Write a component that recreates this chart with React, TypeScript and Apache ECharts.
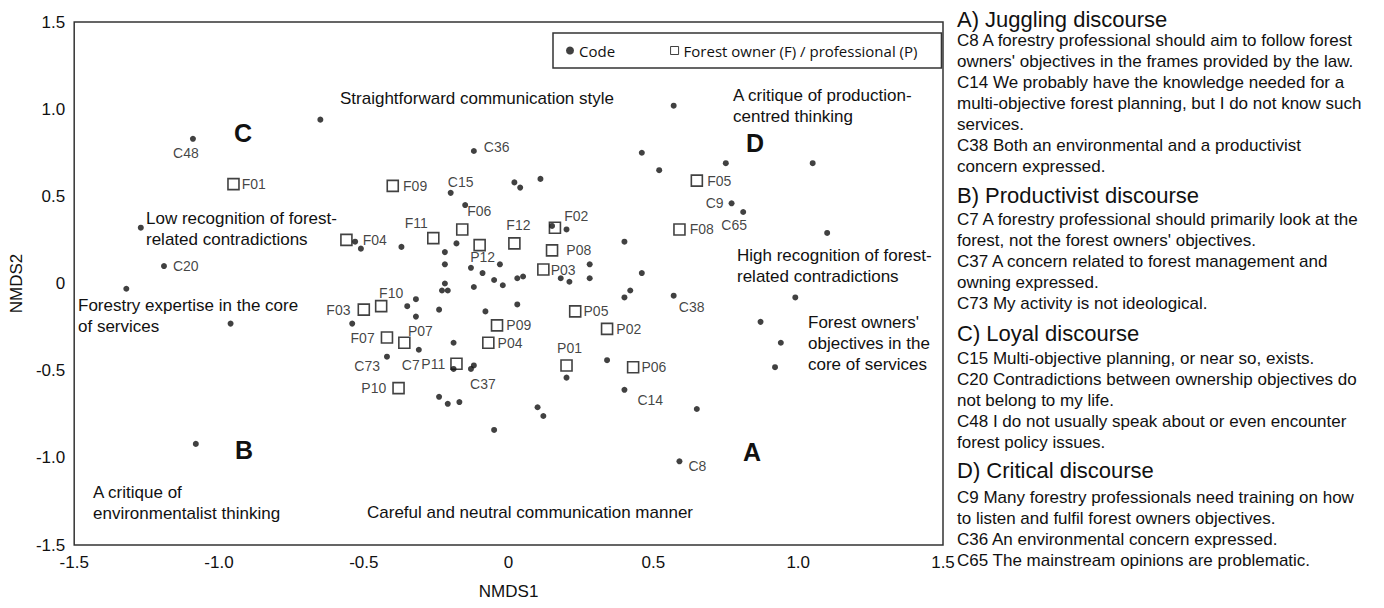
import React, { useEffect, useRef } from 'react';
import * as echarts from 'echarts';

// ---------- data ----------
const AXIS_MIN = -1.5;
const AXIS_MAX = 1.5;
const AXIS_STEP = 0.5;
const X_NAME = 'NMDS1';
const Y_NAME = 'NMDS2';
const CODE_SERIES = 'Code';
const RESP_SERIES = 'Forest owner (F) / professional (P)';

// unlabeled code points [NMDS1, NMDS2]
const CODE_POINTS: [number, number][] = [
  [-0.65, 0.94], [-1.27, 0.32], [-1.32, -0.03], [-0.96, -0.23], [-1.08, -0.92],
  [-0.15, 0.45], [0.02, 0.58], [0.04, 0.55], [0.11, 0.60], [0.46, 0.75], [0.52, 0.65],
  [0.57, 1.02], [0.75, 0.69], [1.05, 0.69], [1.10, 0.29],
  [0.40, 0.24], [0.20, 0.31], [0.15, 0.33], [0.28, 0.11], [0.18, 0.03], [0.21, 0.01],
  [0.28, 0.03], [0.46, 0.06], [0.42, -0.04], [0.40, -0.08],
  [0.99, -0.08], [0.87, -0.22], [0.94, -0.34], [0.92, -0.48],
  [0.03, 0.03], [0.05, 0.04], [-0.02, -0.01], [-0.05, 0.02], [-0.03, 0.11], [-0.13, 0.09],
  [-0.09, 0.06], [-0.12, -0.02], [0.03, -0.12], [-0.08, -0.16],
  [-0.18, 0.23], [-0.22, 0.18], [-0.22, 0.11], [-0.22, 0.0], [-0.23, -0.04], [-0.21, -0.04],
  [-0.24, -0.15], [-0.32, -0.09], [-0.35, -0.13], [-0.32, -0.19], [-0.54, -0.23],
  [-0.37, 0.21], [-0.53, 0.24], [-0.51, 0.20],
  [-0.19, -0.34], [-0.19, -0.49], [-0.12, -0.47], [-0.24, -0.65], [-0.21, -0.69],
  [-0.17, -0.68], [-0.05, -0.84], [0.10, -0.71], [0.12, -0.76], [0.20, -0.54],
  [0.34, -0.44], [0.65, -0.72],
];

// labeled codes [name, NMDS1, NMDS2]
const CODE_LABELED: [string, number, number][] = [
  ['C48', -1.09, 0.83], ['C20', -1.19, 0.10], ['C36', -0.12, 0.76], ['C15', -0.20, 0.52],
  ['C9', 0.77, 0.46], ['C65', 0.81, 0.41], ['C38', 0.57, -0.07], ['C14', 0.40, -0.61],
  ['C8', 0.59, -1.02], ['C37', -0.13, -0.49], ['C7', -0.31, -0.38], ['C73', -0.42, -0.42],
];

// forest owners (F) / professionals (P) [name, NMDS1, NMDS2]
const RESPONDENTS: [string, number, number][] = [
  ['F01', -0.95, 0.57], ['F09', -0.40, 0.56], ['F04', -0.56, 0.25], ['F11', -0.26, 0.26],
  ['F06', -0.16, 0.31], ['P12', -0.10, 0.22], ['F12', 0.02, 0.23], ['F02', 0.16, 0.32],
  ['P08', 0.15, 0.19], ['P03', 0.12, 0.08], ['F05', 0.65, 0.59], ['F08', 0.59, 0.31],
  ['P05', 0.23, -0.16], ['P02', 0.34, -0.26], ['P09', -0.04, -0.24], ['P04', -0.07, -0.34],
  ['P01', 0.20, -0.47], ['P06', 0.43, -0.48], ['P11', -0.18, -0.46], ['F10', -0.44, -0.13],
  ['F03', -0.50, -0.15], ['F07', -0.42, -0.31], ['P07', -0.36, -0.34], ['P10', -0.38, -0.60],
];

const ANNOTATIONS: string[][] = [
  ['Straightforward communication style'],
  ['A critique of production-', 'centred thinking'],
  ['Low recognition of forest-', 'related contradictions'],
  ['High recognition of forest-', 'related contradictions'],
  ['Forestry expertise in the core', 'of services'],
  ["Forest owners'", 'objectives in the', 'core of services'],
  ['A critique of', 'environmentalist thinking'],
  ['Careful and neutral communication manner'],
];
const QUADRANT_LETTERS = ['C', 'D', 'B', 'A'];

const DISCOURSE_HEADINGS = [
  'A) Juggling discourse',
  'B) Productivist discourse',
  'C) Loyal discourse',
  'D) Critical discourse',
];
const DISCOURSE_TEXTS: string[][] = [
  [
    'C8 A forestry professional should aim to follow forest',
    "owners' objectives in the frames provided by the law.",
    'C14 We probably have the knowledge needed for a',
    'multi-objective forest planning, but I do not know such',
    'services.',
    'C38 Both an environmental and a productivist',
    'concern expressed.',
  ],
  [
    'C7 A forestry professional should primarily look at the',
    "forest, not the forest owners' objectives.",
    'C37 A concern related to forest management and',
    'owning expressed.',
    'C73 My activity is not ideological.',
  ],
  [
    'C15 Multi-objective planning, or near so, exists.',
    'C20 Contradictions between ownership objectives do',
    'not belong to my life.',
    'C48 I do not usually speak about or even encounter',
    'forest policy issues.',
  ],
  [
    'C9 Many forestry professionals need training on how',
    'to listen and fulfil forest owners objectives.',
    'C36 An environmental concern expressed.',
    'C65 The mainstream opinions are problematic.',
  ],
];

// ---------- layout / styles ----------
const FONT = '"Liberation Sans", Arial, Helvetica, sans-serif';
const INK = '#111111';

type Placement = { position: string; distance?: number; offset?: [number, number] };
const LABEL_PLACEMENT: Record<string, Placement> = {
  C48: { position: 'bottom', distance: 4, offset: [-7, 0] },
  C20: { position: 'right', distance: 6 },
  C36: { position: 'right', distance: 7, offset: [0, -4] },
  C15: { position: 'top', distance: 5, offset: [10, 4] },
  C9: { position: 'left', distance: 5 },
  C65: { position: 'bottom', distance: 5, offset: [-9, -2] },
  C38: { position: 'bottom', distance: 4, offset: [18, -3] },
  C14: { position: 'right', distance: 10, offset: [0, 10] },
  C8: { position: 'right', distance: 6, offset: [0, 5] },
  C37: { position: 'bottom', distance: 5, offset: [12, 0] },
  C7: { position: 'bottom', distance: 5, offset: [-8, 0] },
  C73: { position: 'left', distance: 4, offset: [0, 9] },
  F01: { position: 'right', distance: 2 },
  F09: { position: 'right', distance: 4 },
  F04: { position: 'right', distance: 10 },
  F11: { position: 'top', distance: 5, offset: [-17, 3] },
  F06: { position: 'top', distance: 5, offset: [17, 0] },
  P12: { position: 'bottom', distance: 2, offset: [3, -3] },
  F12: { position: 'top', distance: 5, offset: [4, 0] },
  F02: { position: 'right', distance: 3, offset: [0, -12] },
  P08: { position: 'right', distance: 8 },
  P03: { position: 'right', distance: 1 },
  F05: { position: 'right', distance: 4 },
  F08: { position: 'right', distance: 4 },
  P05: { position: 'right', distance: 2 },
  P02: { position: 'right', distance: 3 },
  P09: { position: 'right', distance: 3 },
  P04: { position: 'right', distance: 3 },
  P01: { position: 'top', distance: 4, offset: [3, 0] },
  P06: { position: 'right', distance: 2 },
  P11: { position: 'left', distance: 5 },
  F10: { position: 'top', distance: 5, offset: [10, 5] },
  F03: { position: 'left', distance: 7 },
  F07: { position: 'left', distance: 6 },
  P07: { position: 'top', distance: 5, offset: [16, 7] },
  P10: { position: 'left', distance: 6 },
};

// annotation anchor: [left x, first-line centre y]
const ANNOTATION_POS: [number, number][] = [
  [340, 98], [733, 95], [146, 218], [737, 255], [78, 305], [808, 322], [93, 492], [367, 512],
];
const LETTER_POS: [number, number][] = [[243, 133], [755, 143], [244, 450], [752, 452]];
const PANEL_X = 957;
const HEADING_Y = [19, 195, 333, 470];
const BODY_TOP = [30, 208.5, 347.5, 486.5];
const LINE_H = 21;

function labelFor(name: string) {
  const p = LABEL_PLACEMENT[name] || { position: 'right' };
  return {
    show: true,
    formatter: '{b}',
    position: p.position,
    distance: p.distance ?? 5,
    offset: p.offset ?? [0, 0],
    fontSize: 14,
    fontFamily: FONT,
    color: INK,
  };
}

function buildOption() {
  const codeData = [
    ...CODE_POINTS.map((p) => ({ value: p })),
    ...CODE_LABELED.map(([n, x, y]) => ({ name: n, value: [x, y], label: labelFor(n) })),
  ];
  const respData = RESPONDENTS.map(([n, x, y]) => ({ name: n, value: [x, y], label: labelFor(n) }));

  const graphics: any[] = [];
  ANNOTATIONS.forEach((lines, i) => {
    const [x, y] = ANNOTATION_POS[i];
    graphics.push({
      type: 'text',
      x,
      y: y - LINE_H / 2,
      silent: true,
      style: {
        text: lines.join('\n'),
        font: `17px ${FONT}`,
        fill: INK,
        lineHeight: LINE_H,
        align: 'left',
        verticalAlign: 'top',
      },
    });
  });
  QUADRANT_LETTERS.forEach((l, i) => {
    const [x, y] = LETTER_POS[i];
    graphics.push({
      type: 'text',
      x,
      y,
      silent: true,
      style: { text: l, font: `bold 25px ${FONT}`, fill: INK, align: 'center', verticalAlign: 'middle' },
    });
  });
  DISCOURSE_HEADINGS.forEach((h, i) => {
    graphics.push({
      type: 'text',
      x: PANEL_X,
      y: HEADING_Y[i],
      silent: true,
      style: { text: h, font: `22px ${FONT}`, fill: INK, align: 'left', verticalAlign: 'middle' },
    });
    graphics.push({
      type: 'text',
      x: PANEL_X,
      y: BODY_TOP[i],
      silent: true,
      style: {
        text: DISCOURSE_TEXTS[i].join('\n'),
        font: `17px ${FONT}`,
        fill: INK,
        lineHeight: LINE_H,
        align: 'left',
        verticalAlign: 'top',
      },
    });
  });

  const tickFmt = (v: number) => (v === 0 ? '0' : v.toFixed(1));

  return {
    animation: false,
    backgroundColor: '#ffffff',
    grid: {
      left: 66,
      right: 441,
      top: 22,
      bottom: 63,
      show: true,
      borderColor: '#333',
      borderWidth: 1.5,
      backgroundColor: 'transparent',
    },
    legend: {
      show: true,
      left: 553,
      top: 33,
      orient: 'horizontal',
      selectedMode: false,
      padding: [10, 24, 10, 13],
      borderColor: '#333',
      borderWidth: 1.5,
      itemGap: 55,
      itemWidth: 8,
      itemHeight: 8,
      textStyle: { fontFamily: '"Open Sans", "Noto Sans", sans-serif', fontSize: 15, color: INK },
      data: [
        { name: CODE_SERIES, icon: 'circle', itemStyle: { color: '#111', borderWidth: 0 } },
        { name: RESP_SERIES, icon: 'rect', itemStyle: { color: '#fff', borderColor: '#111', borderWidth: 1 } },
      ],
    },
    xAxis: {
      type: 'value',
      min: AXIS_MIN,
      max: AXIS_MAX,
      interval: AXIS_STEP,
      name: X_NAME,
      nameLocation: 'middle',
      nameGap: 38,
      nameTextStyle: { fontFamily: FONT, fontSize: 17, color: INK },
      axisLine: { show: false },
      axisTick: { show: false },
      splitLine: { show: false },
      axisLabel: { formatter: tickFmt, fontFamily: FONT, fontSize: 17, color: INK, margin: 9 },
    },
    yAxis: {
      type: 'value',
      min: AXIS_MIN,
      max: AXIS_MAX,
      interval: AXIS_STEP,
      name: Y_NAME,
      nameLocation: 'middle',
      nameGap: 38,
      nameTextStyle: { fontFamily: FONT, fontSize: 17, color: INK },
      axisLine: { show: false },
      axisTick: { show: false },
      splitLine: { show: false },
      axisLabel: { formatter: tickFmt, fontFamily: FONT, fontSize: 17, color: INK, margin: 9 },
    },
    series: [
      {
        name: RESP_SERIES,
        type: 'scatter',
        symbol: 'rect',
        symbolSize: 11,
        itemStyle: { color: 'rgba(255,255,255,0)', borderColor: '#111', borderWidth: 1.6 },
        emphasis: { disabled: true },
        data: respData,
        z: 2,
      },
      {
        name: CODE_SERIES,
        type: 'scatter',
        symbol: 'circle',
        symbolSize: 6,
        itemStyle: { color: '#111' },
        emphasis: { disabled: true },
        data: codeData,
        z: 3,
      },
    ],
    graphic: graphics,
  };
}

export default function App() {
  const ref = useRef<HTMLDivElement>(null);
  useEffect(() => {
    if (!ref.current) return;
    const chart = echarts.init(ref.current, null, { renderer: 'svg' });
    chart.setOption(buildOption() as any);
    return () => chart.dispose();
  }, []);
  return (
    <div
      ref={ref}
      style={{ position: 'fixed', left: 0, top: 0, width: 1384, height: 608, background: '#fff' }}
    />
  );
}
